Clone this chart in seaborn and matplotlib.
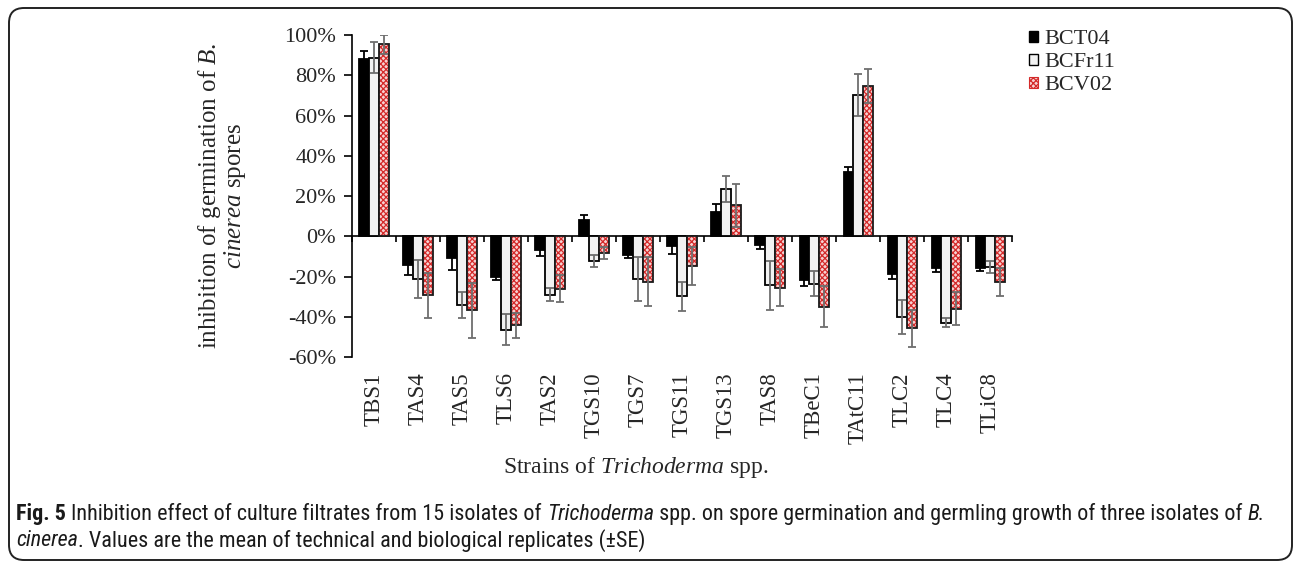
import matplotlib
matplotlib.use("Agg")
import matplotlib.pyplot as plt
from matplotlib.patches import Rectangle, FancyBboxPatch, Patch
from matplotlib import font_manager
import seaborn as sns
import pandas as pd

# Data (percent inhibition, +/- SE)
strains = ['TBS1', 'TAS4', 'TAS5', 'TLS6', 'TAS2', 'TGS10', 'TGS7', 'TGS11',
           'TGS13', 'TAS8', 'TBeC1', 'TAtC11', 'TLC2', 'TLC4', 'TLiC8']
isolates = ['BCT04', 'BCFr11', 'BCV02']

bct04 = [88.1, -14.4, -10.6, -20.2, -6.6, 8.3, -9.3, -5.0, 12.1, -4.1, -21.5, 32.1, -19.0, -15.7, -15.7]
bct04_se = [4.0, 4.9, 6.3, 1.6, 3.0, 2.1, 1.6, 3.8, 4.0, 2.0, 3.1, 2.1, 2.3, 2.0, 1.7]
bcfr11 = [88.8, -21.2, -34.2, -46.4, -29.1, -12.2, -21.2, -29.9, 23.5, -24.3, -23.5, 70.1, -40.2, -43.0, -15.3]
bcfr11_se = [7.7, 9.3, 6.4, 7.8, 3.2, 3.0, 11.0, 7.2, 6.3, 12.1, 6.4, 10.4, 8.4, 2.2, 2.9]
bcv02 = [95.4, -29.4, -36.7, -44.3, -26.1, -8.3, -22.5, -14.9, 15.4, -25.5, -35.0, 74.7, -45.8, -35.9, -22.8]
bcv02_se = [4.6, 11.2, 13.7, 6.3, 6.8, 2.8, 12.2, 9.5, 10.7, 9.0, 10.3, 8.4, 9.4, 8.2, 7.1]

y_ticks = [-60, -40, -20, 0, 20, 40, 60, 80, 100]

means = [bct04, bcfr11, bcv02]
errors = [bct04_se, bcfr11_se, bcv02_se]

df = pd.DataFrame({
    'strain': strains * 3,
    'isolate': [iso for iso in isolates for _ in strains],
    'value': bct04 + bcfr11 + bcv02,
})

sns.set_theme(style='white')
plt.rcParams['font.family'] = ['Liberation Serif', 'DejaVu Serif']
plt.rcParams['mathtext.fontset'] = 'custom'
plt.rcParams['mathtext.rm'] = 'Liberation Serif'
plt.rcParams['mathtext.it'] = 'Liberation Serif:italic'
plt.rcParams['hatch.linewidth'] = 0.9

face_colors = ['black', '#f2f2f2', '#f6d2d2']
err_colors = ['black', '#6e6e6e', '#6e6e6e']
red_hatch = '#d42a2a'

fig = plt.figure(figsize=(12.95, 5.63), dpi=100)
ax = fig.add_axes([0.2718, 0.3659, 0.5097, 0.5719])

sns.barplot(data=df, x='strain', y='value', hue='isolate', order=strains,
            hue_order=isolates, palette=face_colors, width=0.66, gap=0,
            errorbar=None, saturation=1, ax=ax, legend=False)

# style bars and add error bars
bar_conts = list(ax.containers)
for k, cont in enumerate(bar_conts):
    xs = []
    for bar in cont:
        xs.append(bar.get_x() + bar.get_width() / 2)
        if k == 2:
            bar.set_hatch('xxxxxx')
            bar.set_edgecolor(red_hatch)
            bar.set_linewidth(0)
            ax.add_patch(Rectangle(bar.get_xy(), bar.get_width(), bar.get_height(),
                                   fill=False, edgecolor='#1a1a1a', linewidth=1.3, zorder=3))
        else:
            bar.set_edgecolor('black')
            bar.set_linewidth(1.3)
    ax.errorbar(xs, means[k], yerr=errors[k], fmt='none', ecolor=err_colors[k],
                elinewidth=1.3, capsize=3, capthick=1.3, zorder=4)

ax.set_xlim(-0.5, len(strains) - 0.5)
ax.set_ylim(-60, 100)
ax.set_yticks(y_ticks)
ax.set_yticklabels([f'{v}%' for v in y_ticks], fontsize=16)
ax.tick_params(axis='y', direction='out', length=5.5, width=1.2, color='black', pad=6, left=True)
ax.set_xticks(range(len(strains)))
ax.set_xticklabels(strains, rotation=90, fontsize=16.5, va='top')
ax.tick_params(axis='x', length=0, pad=11)
ax.set_xlabel('')
ax.set_ylabel('inhibition of germination of $\\it{B.}$\n$\\it{cinerea}$ spores', fontsize=18,
              linespacing=0.95)
ax.yaxis.set_label_coords((248 - 352) / 660, 0.5)

for s in ['top', 'right', 'bottom']:
    ax.spines[s].set_visible(False)
ax.spines['left'].set_color('black')
ax.spines['left'].set_linewidth(1.2)

# zero line with boundary ticks
zero_ax = ax.secondary_xaxis(60 / 160)
zero_ax.set_xticks([i - 0.5 for i in range(len(strains) + 1)])
zero_ax.set_xticklabels([])
zero_ax.tick_params(direction='out', length=4.5, width=1.2, color='black')
zero_ax.spines['bottom'].set_color('black')
zero_ax.spines['bottom'].set_linewidth(1.2)

# legend
handles = [Patch(facecolor='black', edgecolor='black', linewidth=1),
           Patch(facecolor='#f2f2f2', edgecolor='black', linewidth=1),
           Patch(facecolor=face_colors[2], edgecolor=red_hatch, hatch='xxxxxx', linewidth=0.8)]
fig.legend(handles, isolates, loc='upper left', bbox_to_anchor=(1018 / 1295, 1 - 19 / 563),
           frameon=False, fontsize=16, handlelength=0.4, handleheight=0.4,
           handletextpad=0.3, labelspacing=0.18, borderpad=0)

fig.text(503 / 1295, 1 - 467 / 563, 'Strains of $\\it{Trichoderma}$ spp.', fontsize=17,
         ha='left', va='center')

# rounded frame round the whole figure
frame = FancyBboxPatch((0.09, 0.03), 12.83, 5.52, boxstyle='round,pad=0,rounding_size=0.15',
                       transform=fig.dpi_scale_trans, fill=False, edgecolor='#222222',
                       linewidth=1.4)
fig.patches.append(frame)

# caption font: prefer a narrow / condensed sans if one is installed
cap_family, cap_stretch = 'Open Sans', 'normal'
for fam, stretch in [('Liberation Sans Narrow', 'normal'), ('Roboto Condensed', 'normal'),
                     ('Open Sans Condensed', 'normal'), ('Noto Sans', 'condensed'),
                     ('DejaVu Sans', 'condensed')]:
    try:
        path = font_manager.findfont(font_manager.FontProperties(family=fam, stretch=stretch),
                                     fallback_to_default=False)
    except Exception:
        continue
    if 'arrow' in path or 'ondensed' in path:
        cap_family, cap_stretch = fam, stretch
        break

line1 = [('Fig. 5 ', 'normal', 'bold'),
         ('Inhibition effect of culture filtrates from 15 isolates of ', 'normal', 'normal'),
         ('Trichoderma', 'italic', 'normal'),
         (' spp. on spore germination and germling growth of three isolates of ', 'normal', 'normal'),
         ('B.', 'italic', 'normal')]
line2 = [('cinerea', 'italic', 'normal'),
         ('. Values are the mean of technical and biological replicates (\u00b1SE)', 'normal', 'normal')]

renderer = fig.canvas.get_renderer()


def draw_runs(runs, x, y, size):
    # x, y in inches; returns the width used
    x0 = x
    for txt, style, weight in runs:
        t = fig.text(x, y, txt, fontsize=size, family=cap_family, stretch=cap_stretch,
                     style=style, weight=weight, color='#1a1a1a',
                     transform=fig.dpi_scale_trans, ha='left', va='center')
        x += t.get_window_extent(renderer).width / fig.dpi
    return x - x0


# fit caption size so line 1 spans the same width as in the reference
cap_x0, cap_x1 = 0.16, 12.57
probe = draw_runs(line1, 0, -5, 10)
for t in list(fig.texts)[-len(line1):]:
    t.remove()
cap_size = 10 * (cap_x1 - cap_x0) / probe
draw_runs(line1, cap_x0, (563 - 514) / 100, cap_size)
draw_runs(line2, cap_x0, (563 - 541) / 100, cap_size)

fig.savefig('out.png', dpi=100)
